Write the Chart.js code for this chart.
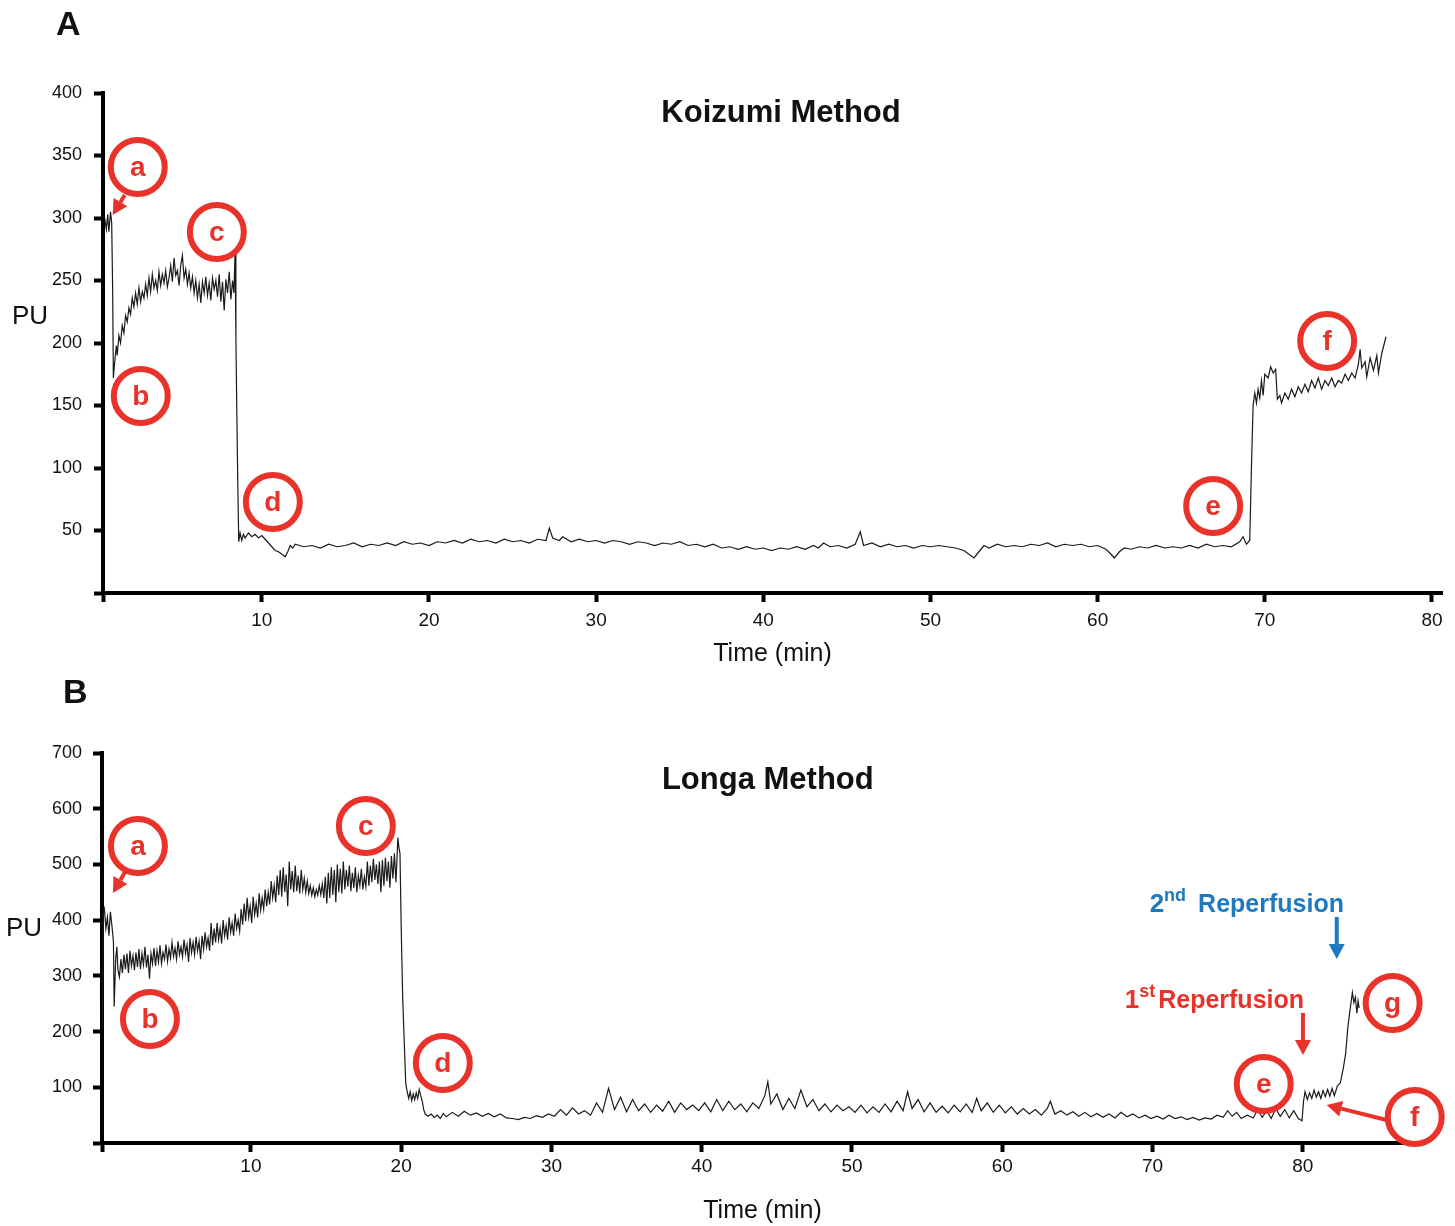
<!DOCTYPE html>
<html>
<head>
<meta charset="utf-8">
<script src="https://cdn.jsdelivr.net/npm/chart.js@4.4.1/dist/chart.umd.min.js"></script>
<style>
  body { margin: 0; background: #fff; width: 1455px; height: 1226px; position: relative; overflow: hidden; font-family: 'Liberation Sans', Arial, sans-serif; }
  canvas { position: absolute; left: 0; }
  .panel { position: absolute; font-weight: bold; font-size: 34px; line-height: 34px; color: #111; }
</style>
</head>
<body>
<canvas id="chartA" width="1455" height="680" style="top:0"></canvas>
<canvas id="chartB" width="1455" height="546" style="top:680px"></canvas>
<div class="panel" style="left:56px;top:6px">A</div>
<div class="panel" style="left:63px;top:674px">B</div>
<script>
// ---- Koizumi method trace (time in min, PU) ----
const timeA = [
  0.6, 0.7, 0.78, 0.85, 0.95, 1.02, 1.08, 1.12, 1.2, 1.3,
  1.35, 1.45, 1.55, 1.65, 1.75, 1.85, 1.95, 2.05, 2.15, 2.25,
  2.35, 2.45, 2.55, 2.65, 2.75, 2.85, 2.95, 3.05, 3.15, 3.25,
  3.35, 3.45, 3.55, 3.65, 3.75, 3.85, 3.95, 4.05, 4.15, 4.25,
  4.35, 4.45, 4.55, 4.65, 4.75, 4.85, 4.95, 5.05, 5.15, 5.25,
  5.35, 5.45, 5.55, 5.65, 5.75, 5.85, 5.95, 6.05, 6.15, 6.25,
  6.35, 6.45, 6.55, 6.65, 6.75, 6.85, 6.95, 7.05, 7.15, 7.25,
  7.35, 7.45, 7.55, 7.65, 7.75, 7.85, 7.95, 8.05, 8.15, 8.25,
  8.33, 8.4, 8.45, 8.5, 8.56, 8.62, 8.7, 8.8, 8.9, 9.0,
  9.2, 9.4, 9.6, 9.8, 10.0, 10.2, 10.4, 10.6, 10.8, 11.0,
  11.2, 11.4, 11.55, 11.7, 11.85, 12.0, 12.5, 13.0, 13.5, 14.0,
  14.5, 15.0, 15.5, 16.0, 16.5, 17.0, 17.5, 18.0, 18.5, 19.0,
  19.5, 20.0, 20.5, 21.0, 21.5, 22.0, 22.5, 23.0, 23.5, 24.0,
  24.5, 25.0, 25.5, 26.0, 26.5, 27.0, 27.2, 27.4, 27.8, 28.0,
  28.5, 29.0, 29.5, 30.0, 30.5, 31.0, 31.5, 32.0, 32.5, 33.0,
  33.5, 34.0, 34.5, 35.0, 35.5, 36.0, 36.5, 37.0, 37.5, 38.0,
  38.5, 39.0, 39.5, 40.0, 40.5, 41.0, 41.5, 42.0, 42.5, 43.0,
  43.3, 43.6, 44.0, 44.5, 45.0, 45.5, 45.8, 46.0, 46.5, 47.0,
  47.5, 48.0, 48.5, 49.0, 49.5, 50.0, 50.5, 51.0, 51.5, 52.0,
  52.3, 52.6, 52.9, 53.2, 53.5, 54.0, 54.5, 55.0, 55.5, 56.0,
  56.5, 57.0, 57.5, 58.0, 58.5, 59.0, 59.5, 60.0, 60.5, 60.8,
  61.0, 61.3, 61.6, 62.0, 62.5, 63.0, 63.5, 64.0, 64.5, 65.0,
  65.5, 66.0, 66.5, 67.0, 67.5, 68.0, 68.5, 68.7, 68.9, 69.1,
  69.2, 69.3, 69.4, 69.5, 69.6, 69.7, 69.8, 69.9, 70.0, 70.2,
  70.35, 70.5, 70.65, 70.75, 70.9, 71.0, 71.2, 71.4, 71.6, 71.8,
  72.0, 72.2, 72.4, 72.6, 72.8, 73.0, 73.2, 73.4, 73.6, 73.8,
  74.0, 74.2, 74.4, 74.6, 74.8, 75.0, 75.2, 75.4, 75.6, 75.7,
  75.8, 76.0, 76.1, 76.3, 76.5, 76.7, 76.8, 77.0, 77.1, 77.25
];
const puA = [
  300, 291, 303, 289, 305, 296, 240, 172, 185, 198,
  190, 206, 200, 214, 208, 222, 217, 228, 223, 236,
  229, 240, 231, 244, 233, 241, 236, 247, 238, 252,
  241, 255, 244, 250, 242, 257, 246, 255, 248, 258,
  245, 252, 262, 249, 268, 254, 258, 246, 262, 270,
  252, 259, 247, 256, 244, 253, 240, 250, 236, 247,
  232, 249, 240, 253, 238, 248, 234, 252, 243, 250,
  237, 255, 233, 249, 226, 251, 240, 257, 235, 250,
  240, 272, 205, 150, 90, 41, 48, 42, 47, 44,
  48, 45, 47, 44, 46, 43, 40, 37, 34, 33,
  31, 29, 33, 38, 36, 39, 37, 38, 36, 39,
  37, 38, 40, 37, 39, 38, 40, 38, 41, 39,
  40, 38, 41, 40, 42, 40, 43, 41, 42, 40,
  43, 41, 42, 40, 43, 42, 52, 44, 42, 45,
  41, 43, 41, 42, 40, 42, 41, 39, 41, 40,
  38, 40, 39, 41, 38, 39, 37, 39, 36, 37,
  35, 37, 35, 36, 34, 36, 35, 37, 35, 38,
  36, 40, 37, 38, 36, 39, 49, 38, 40, 37,
  39, 37, 38, 36, 38, 37, 38, 37, 36, 34,
  31, 28, 33, 38, 36, 39, 37, 38, 37, 39,
  38, 40, 37, 39, 38, 39, 37, 38, 35, 31,
  28, 33, 36, 35, 37, 36, 38, 36, 37, 36,
  38, 36, 39, 37, 38, 37, 41, 45, 39, 42,
  100, 150, 160, 152, 163, 156, 170, 158, 175, 172,
  181, 176, 179, 155, 158, 152, 160, 155, 163, 157,
  165, 160, 167, 161, 170, 164, 172, 163, 170, 166,
  172, 165, 170, 168, 175, 170, 176, 172, 183, 195,
  180, 185, 173, 188, 178, 190, 176, 192, 197, 205
];

// ---- Longa method trace ----
const timeB = [
  0.12, 0.16, 0.25, 0.35, 0.45, 0.55, 0.65, 0.75, 0.85, 0.9,
  1.0, 1.08, 1.15, 1.25, 1.35, 1.45, 1.55, 1.65, 1.75, 1.85,
  1.95, 2.05, 2.15, 2.25, 2.35, 2.45, 2.55, 2.65, 2.75, 2.85,
  2.95, 3.05, 3.15, 3.25, 3.35, 3.45, 3.55, 3.65, 3.75, 3.85,
  3.95, 4.05, 4.15, 4.25, 4.35, 4.45, 4.55, 4.65, 4.75, 4.85,
  4.95, 5.05, 5.15, 5.25, 5.35, 5.45, 5.55, 5.65, 5.75, 5.85,
  5.95, 6.05, 6.15, 6.25, 6.35, 6.45, 6.55, 6.65, 6.75, 6.85,
  6.95, 7.05, 7.15, 7.25, 7.35, 7.45, 7.55, 7.65, 7.75, 7.85,
  7.95, 8.05, 8.15, 8.25, 8.35, 8.45, 8.55, 8.65, 8.75, 8.85,
  8.95, 9.05, 9.15, 9.25, 9.35, 9.45, 9.55, 9.65, 9.75, 9.85,
  9.95, 10.05, 10.15, 10.25, 10.35, 10.45, 10.55, 10.65, 10.75, 10.85,
  10.95, 11.05, 11.15, 11.25, 11.35, 11.45, 11.55, 11.65, 11.75, 11.85,
  11.95, 12.05, 12.15, 12.25, 12.35, 12.45, 12.55, 12.65, 12.75, 12.85,
  12.95, 13.05, 13.15, 13.25, 13.35, 13.45, 13.55, 13.65, 13.75, 13.85,
  13.95, 14.05, 14.15, 14.25, 14.35, 14.45, 14.55, 14.65, 14.75, 14.85,
  14.95, 15.05, 15.15, 15.25, 15.35, 15.45, 15.55, 15.65, 15.75, 15.85,
  15.95, 16.05, 16.15, 16.25, 16.35, 16.45, 16.55, 16.65, 16.75, 16.85,
  16.95, 17.05, 17.15, 17.25, 17.35, 17.45, 17.55, 17.65, 17.75, 17.85,
  17.95, 18.05, 18.15, 18.25, 18.35, 18.45, 18.55, 18.65, 18.75, 18.85,
  18.95, 19.05, 19.15, 19.25, 19.35, 19.45, 19.55, 19.65, 19.72, 19.78,
  19.85, 19.92, 20.0, 20.1, 20.2, 20.3, 20.4, 20.5, 20.6, 20.7,
  20.8, 20.9, 21.0, 21.1, 21.2, 21.3, 21.4, 21.5, 21.6, 21.8,
  22.0, 22.2, 22.4, 22.6, 22.8, 23.0, 23.4, 23.8, 24.2, 24.6,
  25.0, 25.4, 25.8, 26.2, 26.6, 27.0, 27.4, 27.8, 28.2, 28.6,
  29.0, 29.4, 29.8, 30.2, 30.6, 31.0, 31.4, 31.8, 32.2, 32.6,
  33.0, 33.4, 33.8, 34.2, 34.6, 35.0, 35.4, 35.8, 36.2, 36.6,
  37.0, 37.4, 37.8, 38.2, 38.6, 39.0, 39.4, 39.8, 40.2, 40.6,
  41.0, 41.4, 41.8, 42.2, 42.6, 43.0, 43.4, 43.8, 44.2, 44.4,
  44.6, 45.0, 45.4, 45.8, 46.2, 46.6, 47.0, 47.4, 47.8, 48.2,
  48.6, 49.0, 49.4, 49.8, 50.2, 50.6, 51.0, 51.4, 51.8, 52.2,
  52.6, 53.0, 53.4, 53.7, 54.0, 54.4, 54.8, 55.2, 55.6, 56.0,
  56.4, 56.8, 57.2, 57.6, 58.0, 58.3, 58.6, 59.0, 59.4, 59.8,
  60.2, 60.6, 61.0, 61.4, 61.8, 62.2, 62.6, 63.0, 63.2, 63.5,
  63.9, 64.3, 64.7, 65.1, 65.5, 65.9, 66.3, 66.7, 67.1, 67.5,
  67.9, 68.3, 68.7, 69.1, 69.5, 69.9, 70.3, 70.7, 71.1, 71.5,
  71.9, 72.3, 72.7, 73.1, 73.5, 73.9, 74.3, 74.7, 75.0, 75.3,
  75.6, 75.9, 76.3, 76.7, 77.0, 77.3, 77.6, 77.9, 78.2, 78.5,
  78.8, 79.1, 79.4, 79.7, 79.95, 80.05, 80.15, 80.3, 80.45, 80.6,
  80.75, 80.9, 81.05, 81.2, 81.35, 81.5, 81.65, 81.8, 81.95, 82.1,
  82.3, 82.5, 82.7, 82.85, 83.0, 83.15, 83.3, 83.4, 83.5, 83.6,
  83.68, 83.75
];
const puB = [
  205, 410, 420, 385, 405, 372, 415, 390, 362, 245,
  330, 352, 310, 298, 330, 305, 338, 312, 340, 305,
  345, 318, 336, 310, 342, 316, 348, 312, 340, 320,
  352, 315, 338, 295, 340, 322, 350, 318, 345, 325,
  355, 322, 342, 330, 356, 326, 348, 332, 360, 335,
  350, 330, 362, 338, 352, 334, 365, 340, 356, 325,
  368, 342, 360, 338, 370, 345, 362, 330, 372, 348,
  378, 352, 368, 345, 395, 355, 385, 360, 395, 365,
  385, 358, 400, 372, 390, 365, 405, 378, 395, 372,
  412, 385, 400, 380, 420, 392, 430, 398, 440, 405,
  425, 395, 442, 410, 430, 405, 448, 418, 440, 420,
  455, 425, 450, 428, 470, 440, 462, 432, 480, 445,
  490, 442, 495, 450, 482, 425, 505, 455, 488, 450,
  498, 452, 480, 448, 490, 455, 475, 450, 470, 448,
  462, 445, 458, 442, 455, 445, 462, 446, 465, 440,
  478, 430, 485, 440, 495, 445, 490, 432, 500, 450,
  492, 448, 505, 455, 490, 460, 498, 452, 485, 458,
  495, 450, 480, 462, 492, 455, 478, 460, 505, 462,
  498, 468, 510, 472, 500, 465, 505, 450, 508, 462,
  512, 470, 505, 458, 515, 475, 520, 468, 510, 548,
  530, 520, 388, 260, 185, 108, 92, 80, 92, 76,
  88, 78, 90, 80, 96, 85, 75, 60, 52, 48,
  52, 46, 50, 44, 53, 47, 55, 48, 57, 50,
  54, 48, 53, 47, 52, 45, 44, 42, 46, 44,
  49, 46, 52, 48, 60, 50, 63, 52, 58, 50,
  72, 55, 98, 60, 82, 56, 78, 58, 70, 55,
  68, 57, 75, 55, 72, 60, 68, 58, 72, 56,
  78, 58, 75, 60, 70, 56, 72, 62, 85, 110,
  70, 88, 60, 80, 62, 95, 65, 78, 58, 70,
  56, 68, 58, 65, 55, 68, 54, 65, 55, 70,
  56, 75, 58, 92, 62, 78, 56, 72, 55, 66,
  54, 68, 56, 70, 55, 80, 58, 72, 55, 68,
  54, 65, 52, 62, 52, 60, 50, 62, 75, 52,
  58, 50, 56, 48, 55, 47, 53, 46, 52, 45,
  55, 47, 52, 45, 50, 44, 48, 43, 50, 44,
  47, 42, 46, 41, 45, 43, 50, 46, 58, 48,
  55, 44, 50, 45, 60, 46, 58, 44, 62, 48,
  60, 45, 58, 44, 40, 75, 92, 78, 90, 80,
  95, 82, 92, 80, 94, 83, 96, 84, 98, 85,
  102, 108, 135, 160, 208, 240, 270, 252, 262, 233,
  255, 242
];

// tick labels
const xTicksA = [10, 20, 30, 40, 50, 60, 70, 80];
const yTicksA = [50, 100, 150, 200, 250, 300, 350, 400];
const xTicksB = [10, 20, 30, 40, 50, 60, 70, 80];
const yTicksB = [100, 200, 300, 400, 500, 600, 700];

const RED = '#e8322a';
const BLUE = '#1e7abf';
const FONT = "'Liberation Sans', Arial, sans-serif";

function arrow(ctx, x1, y1, x2, y2, col) {
    const a = Math.atan2(y2 - y1, x2 - x1), h = 15, w = 8;
    const bx = x2 - h * Math.cos(a), by = y2 - h * Math.sin(a);
    ctx.strokeStyle = col;
    ctx.fillStyle = col;
    ctx.lineWidth = 4;
    ctx.beginPath();
    ctx.moveTo(x1, y1);
    ctx.lineTo(bx, by);
    ctx.stroke();
    ctx.beginPath();
    ctx.moveTo(x2, y2);
    ctx.lineTo(bx + w * Math.sin(a), by - w * Math.cos(a));
    ctx.lineTo(bx - w * Math.sin(a), by + w * Math.cos(a));
    ctx.closePath();
    ctx.fill();
}

// titles, PU label, circled letters, arrows and reperfusion notes
const marks = {
    id: 'marks',
    afterDraw(chart, args, o) {
        const {ctx} = chart;
        const X = v => chart.scales.x.getPixelForValue(v);
        const Y = v => chart.scales.y.getPixelForValue(v);
        ctx.save();
        ctx.textAlign = 'center';
        ctx.textBaseline = 'middle';
        ctx.fillStyle = '#111';
        ctx.font = 'bold 31px ' + FONT;
        ctx.fillText(o.title, X(o.titleAt[0]), Y(o.titleAt[1]));
        ctx.font = '26px ' + FONT;
        ctx.fillText('PU', o.pu[0], o.pu[1]);

        o.circles.forEach(([t, v, letter]) => {
            ctx.beginPath();
            ctx.lineWidth = 6;
            ctx.strokeStyle = RED;
            ctx.arc(X(t), Y(v), 27, 0, Math.PI * 2);
            ctx.stroke();
            ctx.fillStyle = RED;
            ctx.font = 'bold 28px ' + FONT;
            ctx.fillText(letter, X(t), Y(v) + 1);
        });
        o.arrows.forEach(([t1, v1, t2, v2, col]) => arrow(ctx, X(t1), Y(v1), X(t2), Y(v2), col));

        (o.notes || []).forEach(([t, v, num, sup, rest, gap, col]) => {
            let x = X(t);
            const y = Y(v);
            ctx.textAlign = 'left';
            ctx.textBaseline = 'alphabetic';
            ctx.fillStyle = col;
            ctx.font = 'bold 26px ' + FONT;
            ctx.fillText(num, x, y);
            x += ctx.measureText(num).width;
            ctx.font = 'bold 18px ' + FONT;
            ctx.fillText(sup, x, y - 11);
            x += ctx.measureText(sup).width + gap;
            ctx.font = 'bold 25px ' + FONT;
            ctx.fillText(rest, x, y);
        });
        ctx.restore();
    }
};

function makeChart(id, times, values, o) {
    return new Chart(document.getElementById(id), {
        type: 'line',
        data: {
            datasets: [{
                data: times.map((t, i) => ({x: t, y: values[i]})),
                borderColor: '#1a1a1a',
                borderWidth: 1.2,
                pointRadius: 0,
                tension: 0
            }]
        },
        options: {
            responsive: false,
            animation: false,
            layout: {padding: o.padding},
            plugins: {
                legend: {display: false},
                tooltip: {enabled: false},
                marks: o.marks
            },
            scales: {
                x: {
                    type: 'linear',
                    min: o.xMin,
                    max: o.xMax,
                    afterBuildTicks: s => { s.ticks = [o.xMin].concat(o.xTicks).map(v => ({value: v})); },
                    afterFit: s => { s.height = o.xHeight; },
                    grid: {drawOnChartArea: false, tickLength: 9, tickWidth: 4, tickColor: '#000'},
                    border: {color: '#000', width: 4},
                    ticks: {
                        color: '#111', font: {family: FONT, size: 19}, padding: o.xPad,
                        maxRotation: 0, autoSkip: false,
                        callback: v => o.xTicks.includes(v) ? v : ''
                    },
                    title: {
                        display: true, text: 'Time (min)', color: '#111',
                        font: {family: FONT, size: 25}, padding: {top: 0, bottom: o.titlePad}
                    }
                },
                y: {
                    min: 0,
                    max: o.yMax,
                    afterBuildTicks: s => { s.ticks = [0].concat(o.yTicks).map(v => ({value: v})); },
                    afterFit: s => { s.width = o.yWidth; },
                    grid: {drawOnChartArea: false, tickLength: 9, tickWidth: 4, tickColor: '#000'},
                    border: {color: '#000', width: 4},
                    ticks: {
                        color: '#111', font: {family: FONT, size: 18}, padding: o.yPad,
                        autoSkip: false,
                        callback: v => o.yTicks.includes(v) ? v : ''
                    }
                }
            }
        },
        plugins: [marks]
    });
}

makeChart('chartA', timeA, puA, {
    padding: {left: 0, top: 93, right: 13, bottom: 7},
    xMin: 0.5, xMax: 80.6, xTicks: xTicksA, xHeight: 80, xPad: 7, titlePad: 4,
    yMax: 400, yTicks: yTicksA, yWidth: 103, yPad: 12,
    marks: {
        title: 'Koizumi Method', titleAt: [41.06, 384],
        pu: [30, 317],
        circles: [[2.58, 340.8, 'a'], [2.76, 157.6, 'b'], [7.31, 288.8, 'c'],
                  [10.66, 72.8, 'd'], [66.91, 69.6, 'e'], [73.73, 201.6, 'f']],
        arrows: [[1.8, 318.4, 1.08, 302.4, RED]]
    }
});

makeChart('chartB', timeB, puB, {
    padding: {left: 0, top: 73, right: 32, bottom: 0},
    xMin: 0.09, xMax: 88, xTicks: xTicksB, xHeight: 83, xPad: 3, titlePad: 0,
    yMax: 700, yTicks: yTicksB, yWidth: 102, yPad: 11,
    marks: {
        title: 'Longa Method', titleAt: [44.4, 651.6],
        pu: [24, 249],
        circles: [[2.48, 533, 'a'], [3.28, 222.6, 'b'], [17.65, 569, 'c'], [22.77, 143.6, 'd'],
                  [77.4, 105.9, 'e'], [87.45, 46.7, 'f'], [85.98, 251.3, 'g']],
        arrows: [[1.62, 486.4, 0.82, 448.8, RED], [85.58, 41.3, 81.59, 68.2, RED],
                 [80.01, 233.4, 80.01, 158, RED], [82.26, 405.7, 82.26, 330.3, BLUE]],
        notes: [[68.15, 242.3, '1', 'st', 'Reperfusion', 3, RED],
                [69.81, 414.6, '2', 'nd', 'Reperfusion', 12, BLUE]]
    }
});
</script>
</body>
</html>
